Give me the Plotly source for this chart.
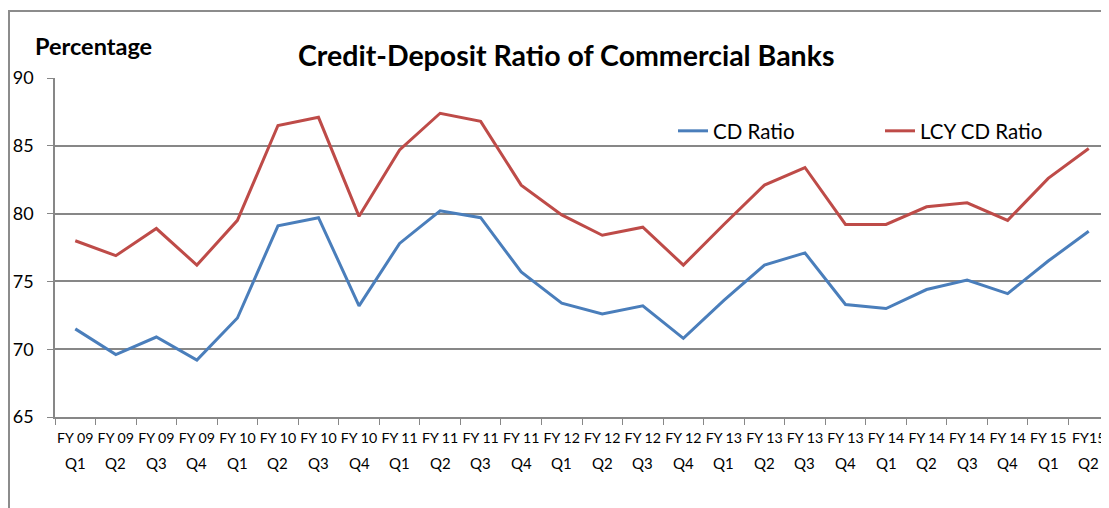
import plotly.graph_objects as go

categories = ["FY 09 Q1", "FY 09 Q2", "FY 09 Q3", "FY 09 Q4",
              "FY 10 Q1", "FY 10 Q2", "FY 10 Q3", "FY 10 Q4",
              "FY 11 Q1", "FY 11 Q2", "FY 11 Q3", "FY 11 Q4",
              "FY 12 Q1", "FY 12 Q2", "FY 12 Q3", "FY 12 Q4",
              "FY 13 Q1", "FY 13 Q2", "FY 13 Q3", "FY 13 Q4",
              "FY 14 Q1", "FY 14 Q2", "FY 14 Q3", "FY 14 Q4",
              "FY 15 Q1", "FY15 Q2"]
year_labels = ["FY 09", "FY 09", "FY 09", "FY 09", "FY 10", "FY 10", "FY 10", "FY 10",
               "FY 11", "FY 11", "FY 11", "FY 11", "FY 12", "FY 12", "FY 12", "FY 12",
               "FY 13", "FY 13", "FY 13", "FY 13", "FY 14", "FY 14", "FY 14", "FY 14",
               "FY 15", "FY15"]
quarter_labels = ["Q1", "Q2", "Q3", "Q4"] * 6 + ["Q1", "Q2"]
cd_ratio = [71.5, 69.6, 70.9, 69.2, 72.3, 79.1, 79.7, 73.2, 77.8, 80.2, 79.7, 75.7,
            73.4, 72.6, 73.2, 70.8, 73.6, 76.2, 77.1, 73.3, 73.0, 74.4, 75.1, 74.1,
            76.5, 78.7]
lcy_cd_ratio = [78.0, 76.9, 78.9, 76.2, 79.5, 86.5, 87.1, 79.8, 84.7, 87.4, 86.8, 82.1,
                79.9, 78.4, 79.0, 76.2, 79.2, 82.1, 83.4, 79.2, 79.2, 80.5, 80.8, 79.5,
                82.6, 84.8]

FONT = "Lato, 'Open Sans', sans-serif"
GRID = "#878787"

# page offset of the plot div (body margin) and plot-area frame, in page pixels
OFF = 8
L, T, B = 47, 70, 91
W, H = 1101, 500
PW = W - L
PH = H - T - B
PLOT_BOTTOM = OFF + T + PH


def px_x(p):
    return (p - OFF - L) / PW


def px_y(p):
    return (PLOT_BOTTOM - p) / PH


fig = go.Figure()
fig.add_trace(go.Scatter(x=categories, y=cd_ratio, mode="lines", name="CD Ratio",
                         line=dict(color="#4A7EBB", width=3)))
fig.add_trace(go.Scatter(x=categories, y=lcy_cd_ratio, mode="lines", name="LCY CD Ratio",
                         line=dict(color="#BE4B48", width=3)))

annotations = [
    dict(text="<b>Credit-Deposit Ratio of Commercial Banks</b>", xref="paper", yref="paper",
         x=px_x(566), y=px_y(55), xanchor="center", yanchor="middle",
         showarrow=False, font=dict(size=28.5, family=FONT)),
    dict(text="<b>Percentage</b>", xref="paper", yref="paper",
         x=px_x(33), y=px_y(46), xanchor="left", yanchor="middle",
         showarrow=False, font=dict(size=23.5, family=FONT)),
]
for c, q in zip(categories, quarter_labels):
    annotations.append(dict(text=q, xref="x", yref="paper", x=c, y=px_y(463),
                            xanchor="center", yanchor="middle", showarrow=False,
                            font=dict(size=15, family=FONT)))

fig.update_layout(
    width=W, height=H,
    margin=dict(l=L, r=0, t=T, b=B, autoexpand=False),
    paper_bgcolor="white", plot_bgcolor="white",
    font=dict(family=FONT, color="black"),
    showlegend=True,
    legend=dict(orientation="h", x=px_x(673), y=px_y(131), xanchor="left", yanchor="middle",
                font=dict(size=20.5, family=FONT), bgcolor="rgba(0,0,0,0)",
                entrywidth=162, entrywidthmode="pixels"),
    xaxis=dict(type="category", tickmode="array", tickvals=categories, ticktext=year_labels,
               tickangle=0, tickfont=dict(size=14.2, family=FONT),
               ticks="outside", tickson="boundaries", ticklen=6, tickcolor=GRID,
               ticklabelstandoff=7,
               showline=True, linecolor=GRID, linewidth=1.5, showgrid=False,
               range=[-0.5, 25.5], fixedrange=True),
    yaxis=dict(range=[65, 90], dtick=5, tick0=65, tickfont=dict(size=18, family=FONT),
               ticks="outside", ticklen=6, tickcolor=GRID, ticklabelstandoff=10,
               showline=True, linecolor=GRID, linewidth=1.5,
               showgrid=True, gridcolor=GRID, gridwidth=1.5, zeroline=False,
               fixedrange=True),
    annotations=annotations,
    shapes=[
        dict(type="rect", xref="paper", yref="paper",
             x0=px_x(9), x1=1.02, y0=-0.35, y1=px_y(11),
             line=dict(color="#8c8c8c", width=2), fillcolor="rgba(0,0,0,0)", layer="below"),
    ],
)

fig.write_html("out.html")
